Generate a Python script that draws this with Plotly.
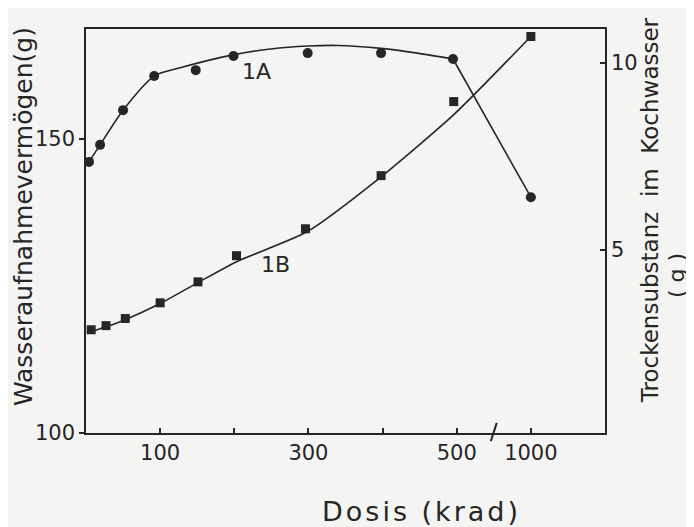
import plotly.graph_objects as go

# ---------------- data ----------------
# Curve 1A : Wasseraufnahmevermögen (g)  -> left axis (circles)
dose_1a = [4, 19, 50, 92, 148, 199, 299, 398, 495, 1000]
wasser_1a = [146.1, 149.0, 154.9, 160.7, 161.7, 164.1, 164.6, 164.6, 163.6, 140.1]
# drawn (fitted) curve of 1A
curve_1a_dose = [4, 19, 50, 92, 127, 198, 249, 299, 340, 398, 447, 495]
curve_1a_val = [146.1, 149.0, 154.9, 160.7, 162.1, 164.3, 165.3, 165.8, 165.9, 165.4, 164.6, 163.6]
tail_1a_dose = [495, 1000]
tail_1a_val = [163.6, 140.1]

# Curve 1B : Trockensubstanz im Kochwasser (g) -> right axis (squares)
dose_1b = [7, 27, 53, 100, 151, 203, 296, 398, 496, 1000]
trocken_1b = [2.86, 2.97, 3.16, 3.58, 4.14, 4.84, 5.56, 6.98, 8.96, 10.70]
curve_1b_dose = [7, 27, 53, 100, 151, 203, 298, 398, 496, 1000]
curve_1b_val = [2.81, 2.94, 3.13, 3.56, 4.12, 4.68, 5.48, 6.95, 8.61, 10.70]

# x axis: linear 0..500, broken axis, then 1000
x_tick_doses = [100, 200, 300, 400, 500, 1000]
x_tick_labels = ["100", "", "300", "", "500", "1000"]
left_ticks = [100, 150]
right_ticks = [5, 10]

BREAK_LOW, BREAK_HIGH, BREAK_POS = 500, 1000, 600


def pos(d):
    """map a dose onto the broken x axis (1000 krad drawn one step after 500)"""
    if d <= BREAK_LOW:
        return d
    return BREAK_POS + (d - BREAK_HIGH)


def P(lst):
    return [pos(d) for d in lst]


INK = "#262626"
BG = "#f4f4f2"
FONT = "DejaVu Sans"

fig = go.Figure()

fig.add_trace(go.Scatter(x=P(curve_1a_dose), y=curve_1a_val, mode="lines",
                         line=dict(color=INK, width=1.6, shape="spline", smoothing=0.8),
                         hoverinfo="skip", showlegend=False))
fig.add_trace(go.Scatter(x=P(tail_1a_dose), y=tail_1a_val, mode="lines",
                         line=dict(color=INK, width=1.6),
                         hoverinfo="skip", showlegend=False))
fig.add_trace(go.Scatter(x=P(dose_1a), y=wasser_1a, mode="markers", name="1A",
                         marker=dict(symbol="circle", size=10, color=INK),
                         showlegend=False))

fig.add_trace(go.Scatter(x=P(curve_1b_dose), y=curve_1b_val, mode="lines", yaxis="y2",
                         line=dict(color=INK, width=1.6, shape="spline", smoothing=0.6),
                         hoverinfo="skip", showlegend=False))
fig.add_trace(go.Scatter(x=P(dose_1b), y=trocken_1b, mode="markers", name="1B", yaxis="y2",
                         marker=dict(symbol="square", size=9, color=INK),
                         showlegend=False))

# axis-break mark
fig.add_shape(type="line", xref="x", yref="paper",
              x0=(BREAK_LOW + BREAK_POS) / 2 - 4, y0=-0.02,
              x1=(BREAK_LOW + BREAK_POS) / 2 + 4, y1=0.025,
              line=dict(color=INK, width=2))


def ann(text, x, y, size, angle=0, xref="paper", yref="paper"):
    return dict(text=text, x=x, y=y, xref=xref, yref=yref, showarrow=False,
                xanchor="center", yanchor="middle", textangle=angle,
                font=dict(size=size, family=FONT, color=INK))


annotations = [
    ann("1A", pos(230), 161.5, 22, xref="x", yref="y"),
    ann("1B", pos(255), 4.6, 22, xref="x", yref="y2"),
    ann('<span style="letter-spacing:3px">Dosis (krad)</span>', (421 - 86) / 519, -0.195, 27),
    ann("Wasseraufnahmevermögen(g)", -0.119, 0.535, 25, -90),
    ann("Trockensubstanz  im  Kochwasser", 1.087, 0.552, 23, -90),
    ann("( g )", 1.138, 0.39, 22, -90),
]

fig.update_layout(
    width=686, height=519,
    margin=dict(l=78, r=89, t=21, b=94),
    paper_bgcolor=BG, plot_bgcolor=BG,
    font=dict(family=FONT, color=INK, size=21),
    annotations=annotations,
    xaxis=dict(range=[0, 700], tickmode="array", tickvals=P(x_tick_doses), ticktext=x_tick_labels,
               ticks="inside", ticklen=5, tickwidth=1.5, tickcolor=INK,
               showline=True, linecolor=INK, linewidth=1.6, mirror=True,
               showgrid=False, zeroline=False, automargin=False,
               tickfont=dict(size=21, family=FONT)),
    yaxis=dict(range=[100, 168.7], tickmode="array", tickvals=left_ticks,
               ticks="outside", ticklen=5, tickwidth=1.5, tickcolor=INK,
               showline=True, linecolor=INK, linewidth=1.6,
               showgrid=False, zeroline=False, automargin=False,
               tickfont=dict(size=21, family=FONT)),
    yaxis2=dict(range=[0.1, 10.9], overlaying="y", side="right", tickmode="array",
                tickvals=right_ticks, ticks="inside", ticklen=5, tickwidth=1.5, tickcolor=INK,
                showline=True, linecolor=INK, linewidth=1.6,
                showgrid=False, zeroline=False, automargin=False,
                tickfont=dict(size=21, family=FONT)),
)

fig.write_html("out.html")
